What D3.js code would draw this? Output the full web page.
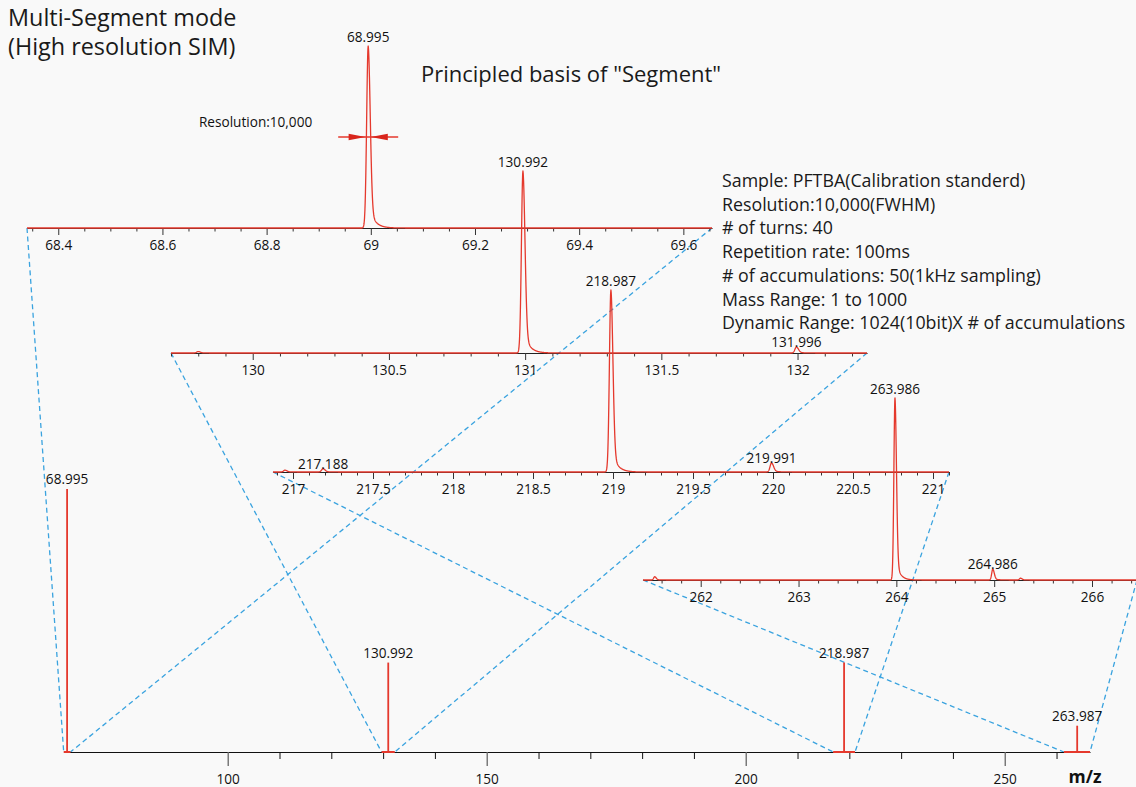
<!DOCTYPE html>
<html>
<head>
<meta charset="utf-8">
<script src="https://cdn.jsdelivr.net/npm/d3@7"></script>
<style>
  html, body { margin: 0; padding: 0; background: #f9f9f9; }
  svg { display: block; font-family: "Open Sans", Lato, sans-serif; }
</style>
</head>
<body>
<svg id="chart" width="1136" height="787"></svg>
<script>
// ---------- data ----------
// m/z window of each high-resolution segment
const segmentDomains = [[68.34, 69.655], [129.70, 132.255], [216.875, 221.1], [261.41, 266.46]];

// labelled major ticks of each segment axis, and the minor tick step
const segmentTicks = [
  [68.4, 68.6, 68.8, 69, 69.2, 69.4, 69.6],
  [130, 130.5, 131, 131.5, 132],
  [217, 217.5, 218, 218.5, 219, 219.5, 220, 220.5, 221],
  [262, 263, 264, 265, 266]
];
const segmentMinorSteps = [0.05, 0.1, 0.1, 0.2];

// peaks in each segment: m/z, intensity relative to the segment base peak (%), label
const segment1Peaks = [
  { mz: 68.995, rel: 100, label: "68.995" }
];
const segment2Peaks = [
  { mz: 130.992, rel: 100, label: "130.992" },
  { mz: 131.996, rel: 3.3, label: "131.996" },
  { mz: 129.80, rel: 0.8, label: "" }
];
const segment3Peaks = [
  { mz: 218.987, rel: 100, label: "218.987" },
  { mz: 217.188, rel: 1.8, label: "217.188" },
  { mz: 219.991, rel: 5.0, label: "219.991" },
  { mz: 216.95, rel: 1.0, label: "" }
];
const segment4Peaks = [
  { mz: 263.986, rel: 100, label: "263.986" },
  { mz: 264.986, rel: 6.0, label: "264.986" },
  { mz: 261.53, rel: 1.8, label: "" },
  { mz: 265.27, rel: 1.0, label: "" }
];
const segmentPeaks = [segment1Peaks, segment2Peaks, segment3Peaks, segment4Peaks];

// overview spectrum (full m/z range)
const overviewMz = [68.995, 130.992, 218.987, 263.987];
const overviewIntensity = [100, 34, 34, 10];
const overviewLabels = ["68.995", "130.992", "218.987", "263.987"];
const overviewDomain = [68.34, 266.46];
const overviewMajorTicks = [100, 150, 200, 250];
const overviewMinorTicks = [110, 120, 130, 140, 160, 170, 180, 190, 210, 220, 230, 240, 260];

const resolvingPower = 10000;

const infoLines = [
  "Sample: PFTBA(Calibration standerd)",
  "Resolution:10,000(FWHM)",
  "# of turns: 40",
  "Repetition rate: 100ms",
  "# of accumulations: 50(1kHz sampling)",
  "Mass Range: 1 to 1000",
  "Dynamic Range: 1024(10bit)X # of accumulations"
];

// ---------- layout ----------
const RED = "#e5392d";
const BLUE = "#3aa3df";
const LABEL_SIZE = 13.6;
const panelLayout = [
  { left: 27,  right: 712,  base: 228 },
  { left: 171, right: 867,  base: 353 },
  { left: 273, right: 949,  base: 472 },
  { left: 643, right: 1137, base: 580 }
];
const panelHeight = 182;
const overviewLayout = { left: 63.7, right: 1090, base: 752, top: 489 };

const svg = d3.select("#chart");
svg.append("rect").attr("width", 1136).attr("height", 787).attr("fill", "#f9f9f9");

// overview scales
const xAll = d3.scaleLinear().domain(overviewDomain).range([overviewLayout.left, overviewLayout.right]);
const yAll = d3.scaleLinear().domain([0, 100]).range([overviewLayout.base, overviewLayout.top]);

// panel scales
const panels = segmentDomains.map((dom, i) => {
  const L = panelLayout[i];
  return {
    dom,
    L,
    x: d3.scaleLinear().domain(dom).range([L.left, L.right]),
    y: d3.scaleLinear().domain([0, 100]).range([L.base, L.base - panelHeight])
  };
});

// peak profile: Gaussian at the stated resolving power, with a short tail on the high-mass side
function sigmaOf(mz) { return mz / resolvingPower / 2.355; }
function profile(d, s) {
  if (d <= 0) return Math.exp(-0.5 * (d / s) * (d / s));
  const g = Math.exp(-0.5 * (d / (s * 1.35)) * (d / (s * 1.35)));
  return 0.86 * g + 0.14 * Math.exp(-d / (s * 3.5));
}
function spectrum(dom, peaks) {
  let xs = d3.range(dom[0], dom[1], (dom[1] - dom[0]) / 1500);
  xs.push(dom[1]);
  peaks.forEach(p => {
    const s = sigmaOf(p.mz);
    d3.range(-40, 200).forEach(k => xs.push(p.mz + k * s / 5));
  });
  xs = xs.filter(v => v >= dom[0] && v <= dom[1]).sort((a, b) => a - b);
  return xs.map(v => ({
    mz: v,
    rel: d3.sum(peaks, p => p.rel * profile(v - p.mz, sigmaOf(p.mz)))
  }));
}

// ---------- zoom guides (dashed) ----------
const guides = svg.append("g");
panels.forEach(p => {
  p.dom.forEach(v => {
    guides.append("line")
      .attr("x1", p.x(v)).attr("y1", p.L.base)
      .attr("x2", xAll(v)).attr("y2", overviewLayout.base)
      .attr("stroke", BLUE).attr("stroke-width", 1.3)
      .attr("stroke-dasharray", "5,3.5");
  });
});

// ---------- segment panels ----------
panels.forEach((p, i) => {
  const g = svg.append("g");
  const minor = d3.range(Math.ceil(p.dom[0] / segmentMinorSteps[i]) , Math.floor(p.dom[1] / segmentMinorSteps[i]) + 1)
    .map(k => +(k * segmentMinorSteps[i]).toFixed(3))
    .filter(v => !segmentTicks[i].some(t => Math.abs(t - v) < 1e-6));

  const minorAxis = g.append("g").attr("transform", `translate(0,${p.L.base})`)
    .call(d3.axisBottom(p.x).tickValues(minor).tickSize(3.5).tickSizeOuter(0).tickFormat(""));
  minorAxis.select(".domain").remove();
  minorAxis.selectAll("line").attr("stroke", "#333");

  const majorAxis = g.append("g").attr("transform", `translate(0,${p.L.base})`)
    .call(d3.axisBottom(p.x).tickValues(segmentTicks[i]).tickSize(7).tickSizeOuter(0).tickPadding(5)
      .tickFormat(d3.format("~g")));
  majorAxis.select(".domain").attr("stroke", "#222").attr("stroke-width", 1.2);
  majorAxis.selectAll("line").attr("stroke", "#333");
  majorAxis.selectAll("text").attr("font-size", LABEL_SIZE).attr("fill", "#111")
    .attr("font-family", "'Open Sans', Lato, sans-serif");

  const line = d3.line().x(d => p.x(d.mz)).y(d => p.y(d.rel));
  g.append("path").datum(spectrum(p.dom, segmentPeaks[i]))
    .attr("d", line).attr("fill", "none").attr("stroke", RED)
    .attr("stroke-width", 1.3).attr("stroke-linejoin", "round");

  g.selectAll("text.peak").data(segmentPeaks[i].filter(d => d.label)).join("text")
    .attr("class", "peak")
    .attr("x", d => p.x(d.mz)).attr("y", d => p.y(d.rel) - (d.rel < 50 ? 0 : 4))
    .attr("text-anchor", "middle").attr("font-size", LABEL_SIZE).attr("fill", "#111")
    .text(d => d.label);
});

// ---------- FWHM marker on the first segment ----------
{
  const p = panels[0];
  const pk = segment1Peaks[0];
  const half = sigmaOf(pk.mz) * 2.355 / 2;
  const yHalf = p.y(pk.rel / 2);
  const cx = p.x(pk.mz);
  const tipL = p.x(pk.mz - half) - 0.8;
  const tipR = p.x(pk.mz + half) + 0.8;
  const g = svg.append("g");
  g.append("line").attr("x1", cx - 30).attr("x2", cx + 30).attr("y1", yHalf).attr("y2", yHalf)
    .attr("stroke", RED).attr("stroke-width", 1.3);
  g.append("path").attr("d", `M${tipL},${yHalf} L${tipL - 17},${yHalf - 3.2} L${tipL - 17},${yHalf + 3.2} Z`)
    .attr("fill", "#d9251c");
  g.append("path").attr("d", `M${tipR},${yHalf} L${tipR + 17},${yHalf - 3.2} L${tipR + 17},${yHalf + 3.2} Z`)
    .attr("fill", "#d9251c");
  g.append("text").attr("x", cx - 56).attr("y", yHalf - 10).attr("text-anchor", "end")
    .attr("font-size", LABEL_SIZE).attr("fill", "#111").text("Resolution:10,000");
}

// ---------- overview spectrum ----------
{
  const g = svg.append("g");
  const minorAxis = g.append("g").attr("transform", `translate(0,${overviewLayout.base})`)
    .call(d3.axisBottom(xAll).tickValues(overviewMinorTicks).tickSize(7).tickSizeOuter(0).tickFormat(""));
  minorAxis.select(".domain").attr("stroke", "#111").attr("stroke-width", 1.2);
  minorAxis.selectAll("line").attr("stroke", "#111");
  const majorAxis = g.append("g").attr("transform", `translate(0,${overviewLayout.base})`)
    .call(d3.axisBottom(xAll).tickValues(overviewMajorTicks).tickSize(14).tickSizeOuter(0).tickPadding(8)
      .tickFormat(d3.format("d")));
  majorAxis.select(".domain").remove();
  majorAxis.selectAll("line").attr("stroke", "#666").attr("stroke-width", 1.3);
  majorAxis.selectAll("text").attr("font-size", LABEL_SIZE).attr("fill", "#111")
    .attr("font-family", "'Open Sans', Lato, sans-serif");

  // baseline of each acquired segment
  segmentDomains.forEach(dom => {
    g.append("line").attr("x1", xAll(dom[0])).attr("x2", xAll(dom[1]))
      .attr("y1", overviewLayout.base).attr("y2", overviewLayout.base)
      .attr("stroke", RED).attr("stroke-width", 2);
  });

  g.selectAll("line.stick").data(overviewMz).join("line").attr("class", "stick")
    .attr("x1", d => xAll(d)).attr("x2", d => xAll(d))
    .attr("y1", yAll(0)).attr("y2", (d, i) => yAll(overviewIntensity[i]))
    .attr("stroke", RED).attr("stroke-width", 1.8);

  g.selectAll("text.stick").data(overviewMz).join("text").attr("class", "stick")
    .attr("x", d => xAll(d)).attr("y", (d, i) => yAll(overviewIntensity[i]) - 5)
    .attr("text-anchor", "middle").attr("font-size", LABEL_SIZE).attr("fill", "#111")
    .text((d, i) => overviewLabels[i]);

  g.append("text").attr("x", 1085).attr("y", 783).attr("text-anchor", "middle")
    .attr("font-size", 17.5).attr("font-weight", "bold").attr("fill", "#111").text("m/z");
}

// ---------- titles and acquisition notes ----------
svg.append("text").attr("x", 8).attr("y", 26).attr("font-size", 23.4).attr("fill", "#1a1a1a")
  .text("Multi-Segment mode");
svg.append("text").attr("x", 8).attr("y", 55).attr("font-size", 23.4).attr("fill", "#1a1a1a")
  .text("(High resolution SIM)");
svg.append("text").attr("x", 421).attr("y", 82).attr("font-size", 22).attr("fill", "#1a1a1a")
  .text("Principled basis of \"Segment\"");

svg.append("g").selectAll("text").data(infoLines).join("text")
  .attr("x", 722).attr("y", (d, i) => 187 + i * 23.7)
  .attr("font-size", 17.8).attr("fill", "#1a1a1a")
  .text(d => d);
</script>
</body>
</html>
